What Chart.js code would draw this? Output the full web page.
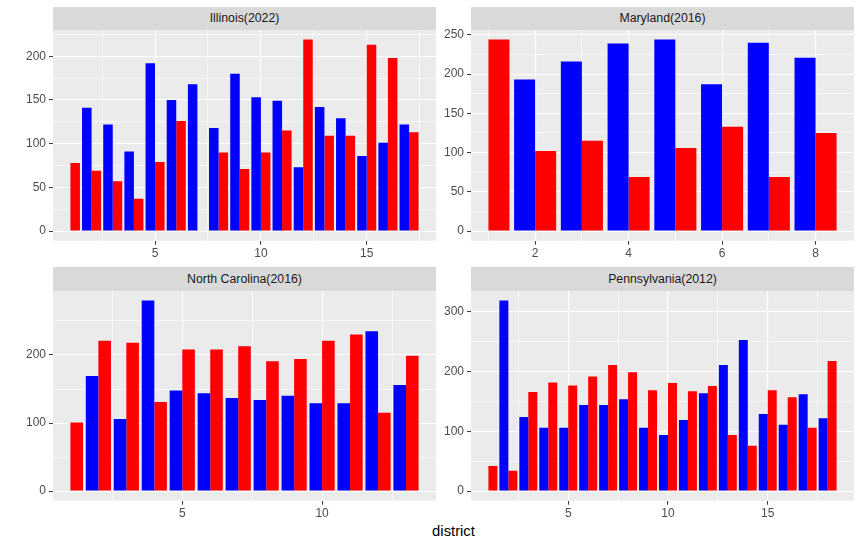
<!DOCTYPE html>
<html>
<head>
<meta charset="utf-8">
<script src="https://cdn.jsdelivr.net/npm/chart.js@4.4.1/dist/chart.umd.min.js"></script>
<style>
  body { margin: 0; background: #fff; width: 862px; height: 546px; position: relative; overflow: hidden;
         font-family: "Liberation Sans", Arial, sans-serif; }
  .strip { position: absolute; background: #D9D9D9; color: #1A1A1A; font-size: 12.3px; text-align: center; }
  .box { position: absolute; }
  #xtitle { position: absolute; left: 53px; width: 801px; top: 523px; line-height: 17px;
            text-align: center; font-size: 14.8px; color: #000; }
</style>
</head>
<body>
<div class="strip" style="left:53px;top:7px;width:383px;height:23px;line-height:23px;">Illinois(2022)</div>
<div class="strip" style="left:471px;top:7px;width:383px;height:23px;line-height:23px;">Maryland(2016)</div>
<div class="strip" style="left:53px;top:267px;width:383px;height:24px;line-height:24px;">North Carolina(2016)</div>
<div class="strip" style="left:471px;top:267px;width:383px;height:24px;line-height:24px;">Pennsylvania(2012)</div>

<!-- lienzos con 14px extra arriba para que no se corte la etiqueta superior -->
<div class="box" style="left:0;top:16px;width:436px;height:247px;"><canvas id="il"></canvas></div>
<div class="box" style="left:418px;top:16px;width:436px;height:247px;"><canvas id="md"></canvas></div>
<div class="box" style="left:0;top:277px;width:436px;height:246px;"><canvas id="nc"></canvas></div>
<div class="box" style="left:418px;top:277px;width:436px;height:246px;"><canvas id="pa"></canvas></div>

<div id="xtitle">district</div>

<script>
// Illinois(2022)
const ilDistrict = [1, 2, 3, 4, 5, 6, 7, 8, 9, 10, 11, 12, 13, 14, 15, 16, 17];
const ilBlue = [null, 141, 122, 91, 192, 150, 168, 118, 180, 153, 149, 73, 142, 129, 86, 101, 122];
const ilRed = [78, 69, 57, 37, 79, 126, null, 90, 71, 90, 115, 219, 109, 109, 213, 198, 113];
const ilXBreaks = [5, 10, 15];
const ilYBreaks = [0, 50, 100, 150, 200];

// Maryland(2016)
const mdDistrict = [1, 2, 3, 4, 5, 6, 7, 8];
const mdBlue = [null, 193, 216, 239, 244, 187, 240, 221];
const mdRed = [244, 102, 115, 69, 106, 133, 69, 125];
const mdXBreaks = [2, 4, 6, 8];
const mdYBreaks = [0, 50, 100, 150, 200, 250];

// North Carolina(2016)
const ncDistrict = [1, 2, 3, 4, 5, 6, 7, 8, 9, 10, 11, 12, 13];
const ncBlue = [null, 169, 106, 280, 148, 144, 137, 134, 140, 129, 129, 235, 156];
const ncRed = [101, 221, 218, 131, 208, 208, 213, 191, 194, 221, 230, 115, 199];
const ncXBreaks = [5, 10];
const ncYBreaks = [0, 100, 200];

// Pennsylvania(2012)
const paDistrict = [1, 2, 3, 4, 5, 6, 7, 8, 9, 10, 11, 12, 13, 14, 15, 16, 17, 18];
const paBlue = [null, 319, 124, 106, 106, 144, 144, 154, 106, 94, 119, 164, 211, 253, 129, 111, 162, 122];
const paRed = [42, 34, 166, 182, 177, 192, 211, 199, 169, 181, 167, 176, 94, 76, 169, 157, 106, 218];
const paXBreaks = [5, 10, 15];
const paYBreaks = [0, 100, 200, 300];

// fondo gris del panel
const panelBg = {
  id: 'panelBg',
  beforeDraw(chart) {
    const a = chart.chartArea;
    const ctx = chart.ctx;
    ctx.save();
    ctx.fillStyle = '#EBEBEB';
    ctx.fillRect(a.left, a.top, a.right - a.left, a.bottom - a.top);
    ctx.restore();
  }
};

// breaks mayores + menores (a mitad de camino), dentro del rango
function allBreaks(major, min, max) {
  const step = major[1] - major[0];
  const out = [];
  for (let v = major[0] - step / 2; v <= major[major.length - 1] + step / 2 + 1e-9; v += step / 2) {
    if (v >= min && v <= max) out.push(v);
  }
  return out;
}

function axis(min, max, major, isX, axisHeight) {
  const majorSet = new Set(major);
  const ticks = allBreaks(major, min, max);
  return {
    type: 'linear',
    min: min,
    max: max,
    offset: false,
    border: { display: false },
    grid: {
      offset: false,
      color: '#FFFFFF',
      lineWidth: c => majorSet.has(c.tick.value) ? 1.1 : 0.55,
      tickColor: c => majorSet.has(c.tick.value) ? '#333333' : 'rgba(0,0,0,0)',
      tickWidth: 1,
      tickLength: 4,
      drawTicks: true
    },
    ticks: {
      autoSkip: false,
      maxRotation: 0,
      padding: isX ? 2 : 3,
      color: '#4D4D4D',
      font: { family: '"Liberation Sans", Arial, sans-serif', size: 12 },
      callback: v => majorSet.has(v) ? String(v) : ''
    },
    afterBuildTicks: s => { s.ticks = ticks.map(v => ({ value: v })); },
    afterFit: s => {
      if (isX) s.height = axisHeight; else s.width = 53;
      s.paddingTop = 0; s.paddingBottom = 0; s.paddingLeft = 0; s.paddingRight = 0;
    }
  };
}

function makePanel(id, district, blue, red, xBreaks, yBreaks, axisHeight) {
  const top = Math.max(...blue.filter(v => v !== null), ...red.filter(v => v !== null));
  const xlo = district[0];
  const xhi = district[district.length - 1] + 0.45;
  const xpad = (xhi - xlo) * 0.05;
  new Chart(document.getElementById(id), {
    type: 'bar',
    data: {
      datasets: [
        { data: district.map((d, i) => ({ x: d, y: blue[i] })), backgroundColor: '#0000FF' },
        { data: district.map((d, i) => ({ x: d, y: red[i] })), backgroundColor: '#FF0000' }
      ]
    },
    options: {
      responsive: true,
      maintainAspectRatio: false,
      animation: false,
      layout: { padding: { top: 14, left: 0, right: 0, bottom: 0 } },
      datasets: { bar: { categoryPercentage: 0.9, barPercentage: 1.0, borderWidth: 0 } },
      plugins: { legend: { display: false }, tooltip: { enabled: false } },
      scales: {
        x: axis(xlo - xpad, xhi + xpad, xBreaks, true, axisHeight),
        y: axis(-top * 0.05, top * 1.05, yBreaks, false)
      }
    },
    plugins: [panelBg]
  });
}

makePanel('il', ilDistrict, ilBlue, ilRed, ilXBreaks, ilYBreaks, 22.3);
makePanel('md', mdDistrict, mdBlue, mdRed, mdXBreaks, mdYBreaks, 22.3);
makePanel('nc', ncDistrict, ncBlue, ncRed, ncXBreaks, ncYBreaks, 22.3);
makePanel('pa', paDistrict, paBlue, paRed, paXBreaks, paYBreaks, 22.3);
</script>
</body>
</html>
